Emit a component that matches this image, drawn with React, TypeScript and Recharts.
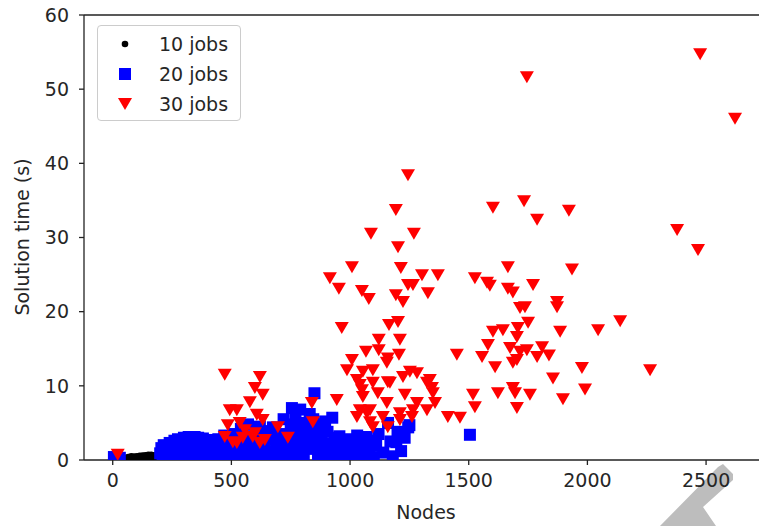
import React from 'react';
import {
  ScatterChart,
  Scatter,
  XAxis,
  YAxis,
  ReferenceLine,
  Legend,
} from 'recharts';

// [nodes, solution time (s)]
const jobs10: [number, number][] = [
  [55, 0.3], [60, 0.1], [66, 0.4], [72, 0.2], [78, 0.5], [84, 0.2], [90, 0.45],
  [96, 0.15], [102, 0.5], [108, 0.3], [114, 0.55], [120, 0.2], [126, 0.6], [132, 0.35],
  [138, 0.65], [144, 0.25], [150, 0.7], [156, 0.4], [162, 0.7], [168, 0.3], [174, 0.65],
  [180, 0.45], [186, 0.6], [192, 0.3], [198, 0.5],
];

const jobs20: [number, number][] = [
  [5, 0.4], [30, 0.3],
  [200, 0.9], [205, 1.6], [210, 0.3], [215, 2.0], [225, 1.4], [230, 0.8], [240, 2.3],
  [245, 0.4], [250, 1.0], [255, 1.8], [260, 2.6], [268, 0.5], [275, 2.8], [282, 2.0],
  [290, 1.5], [295, 0.3], [300, 3.0], [305, 2.2], [310, 0.6], [315, 1.5], [320, 3.1],
  [328, 0.4], [335, 2.0], [340, 1.0], [345, 3.1], [352, 2.2], [360, 3.0], [365, 0.4],
  [370, 1.2], [375, 2.1], [380, 2.9], [388, 1.0], [395, 2.4], [400, 0.3], [405, 1.8],
  [410, 2.7], [415, 2.2], [420, 0.9], [428, 1.5], [435, 2.5], [440, 0.3], [445, 2.8],
  [450, 1.8], [455, 1.2], [460, 0.5], [465, 2.4], [470, 3.3], [475, 0.3], [480, 1.2],
  [485, 2.8], [490, 2.0], [495, 1.3], [500, 0.4], [505, 2.4], [510, 3.5], [520, 0.3],
  [525, 2.5], [530, 1.0], [540, 4.2], [545, 1.5], [555, 2.2], [560, 0.4], [565, 3.0],
  [570, 4.8], [580, 0.6], [585, 2.0], [590, 3.2], [595, 0.3], [605, 1.6], [610, 3.4],
  [620, 4.5], [625, 0.5], [635, 2.6], [640, 1.5], [650, 3.9], [655, 0.3], [660, 2.8],
  [665, 1.1], [675, 4.4], [680, 1.2], [690, 2.3], [695, 0.3], [700, 3.3], [705, 1.8],
  [715, 0.8], [720, 5.5], [725, 3.5], [735, 2.4], [740, 0.4], [745, 1.5], [750, 4.0],
  [755, 7.0], [760, 3.0], [765, 4.8], [770, 6.0], [775, 0.4], [780, 1.5], [785, 4.2],
  [790, 6.8], [795, 2.0], [800, 3.5], [805, 0.5], [810, 5.0], [815, 3.5], [820, 2.0],
  [825, 4.5], [830, 6.2], [840, 1.5], [845, 5.5], [850, 9.0], [855, 2.5], [860, 4.0],
  [865, 0.3], [870, 1.0], [875, 4.8], [880, 3.0], [890, 1.6], [895, 5.2], [900, 0.4],
  [905, 3.8], [910, 2.2], [920, 1.0], [925, 5.7], [935, 3.0], [940, 1.5], [945, 0.3],
  [955, 3.2], [960, 1.5], [970, 2.3], [980, 0.4], [990, 2.8], [1000, 1.2], [1010, 2.4],
  [1020, 0.3], [1030, 3.3], [1040, 1.4], [1050, 2.0], [1060, 0.5], [1070, 3.1],
  [1080, 1.4], [1090, 2.6], [1100, 0.4], [1110, 2.0], [1120, 3.5], [1140, 1.0],
  [1160, 5.0], [1170, 2.5], [1180, 0.5], [1195, 2.4], [1200, 3.8], [1215, 1.2],
  [1230, 3.0], [1245, 4.4], [1250, 4.7], [1505, 3.4],
];

const jobs30: [number, number][] = [
  [2475, 54.7], [2622, 46.0], [1745, 51.6], [1244, 38.4], [1193, 33.7], [1733, 34.9],
  [1602, 34.0], [1922, 33.6], [1788, 32.4], [1088, 30.5], [1269, 30.5], [1202, 28.7],
  [1008, 26.0], [1214, 25.9], [915, 24.5], [953, 23.1], [1303, 24.9], [1370, 24.9],
  [1244, 23.6], [1265, 23.6], [1050, 22.8], [1079, 21.7], [1193, 22.2], [1223, 21.3],
  [1328, 22.5], [965, 17.8], [1164, 18.2], [1202, 18.6], [1121, 16.2], [1210, 16.2],
  [1067, 14.6], [1121, 14.8], [1159, 13.7], [1206, 14.2], [1008, 13.5], [1450, 14.2],
  [1526, 24.5], [1577, 23.9], [1556, 13.9], [1665, 26.0], [1935, 25.7], [1589, 23.5],
  [1665, 23.1], [1686, 22.6], [1771, 23.6], [1872, 21.3], [1872, 20.6], [1737, 20.6],
  [1716, 20.5], [1750, 18.5], [1602, 17.3], [1644, 17.5], [1707, 17.8], [1703, 16.6],
  [1885, 17.3], [2045, 17.5], [1581, 15.5], [1674, 15.1], [1716, 14.6], [1745, 14.8],
  [1809, 15.2], [1788, 13.9], [1838, 14.1], [1703, 13.5], [1611, 12.5], [1977, 12.4],
  [2138, 18.7], [1686, 13.1], [1855, 11.0], [1686, 9.7], [1990, 9.5], [2378, 31.0],
  [2466, 28.3], [2264, 12.1], [1897, 8.2], [1518, 8.8], [1526, 7.1], [1623, 9.0],
  [1695, 9.0], [1703, 7.0], [1758, 8.8], [1412, 5.8], [1463, 5.7], [839, 7.7],
  [843, 5.1], [944, 8.1], [987, 12.1], [1029, 10.8], [1096, 12.1], [1155, 13.1],
  [1050, 9.4], [1117, 9.0], [1168, 10.4], [1223, 11.2], [1282, 11.7], [1336, 10.8],
  [1029, 5.8], [1071, 6.3], [1138, 5.8], [1210, 6.3], [1261, 5.8], [1324, 6.7],
  [1358, 7.7], [1155, 7.7], [1096, 4.4], [1159, 4.4], [1282, 7.7], [1349, 9.0],
  [1054, 11.9], [1252, 11.9], [1324, 10.4], [1345, 9.7], [1041, 10.1], [1096, 10.4],
  [1159, 10.5], [1054, 8.5], [1231, 8.8], [1041, 6.7], [1084, 6.7], [1265, 6.7],
  [1084, 5.1], [1210, 5.4], [472, 11.5], [620, 11.2], [599, 9.7], [632, 8.8],
  [578, 7.8], [493, 6.7], [523, 6.7], [485, 4.7], [535, 5.0], [472, 3.1], [506, 2.4],
  [548, 3.0], [607, 6.1], [632, 5.4], [599, 3.6], [641, 2.7], [21, 0.7], [696, 4.4],
  [738, 3.0], [590, 3.1], [620, 2.3], [523, 2.3], [557, 4.0],
];

const xTicks = [0, 500, 1000, 1500, 2000, 2500];
const yTicks = [0, 10, 20, 30, 40, 50, 60];

const FONT = 'DejaVu Sans';
const TEXT = '#262626';

const toPoints = (rows: [number, number][]) => rows.map(([x, y]) => ({ x, y }));

const DotMark = (p: any) => <circle cx={p.cx} cy={p.cy} r={3.3} fill="#000000" />;
const SquareMark = (p: any) => (
  <rect x={p.cx - 6} y={p.cy - 6} width={12} height={12} fill="#0000ff" />
);
const TriMark = (p: any) => (
  <polygon
    points={`${p.cx - 7},${p.cy - 6} ${p.cx + 7},${p.cy - 6} ${p.cx},${p.cy + 6}`}
    fill="#ff0000"
  />
);

const series = [
  { name: '10 jobs', rows: jobs10, shape: DotMark },
  { name: '20 jobs', rows: jobs20, shape: SquareMark },
  { name: '30 jobs', rows: jobs30, shape: TriMark },
];

const LegendBox = () => (
  <div
    style={{
      width: 144,
      height: 96,
      border: '1px solid #cccccc',
      borderRadius: 4,
      background: 'rgba(255,255,255,0.8)',
      boxSizing: 'border-box',
      paddingTop: 3,
    }}
  >
    {series.map((s) => (
      <div key={s.name} style={{ display: 'flex', alignItems: 'center', height: 30 }}>
        <svg width={61} height={30}>
          {s.shape({ cx: 27, cy: 15 })}
        </svg>
        <span style={{ fontFamily: FONT, fontSize: 19, color: TEXT }}>{s.name}</span>
      </div>
    ))}
  </div>
);

const App: React.FC = () => {
  return (
    <div style={{ position: 'absolute', left: 0, top: 0, width: 759, height: 526 }}>
      {/* grey watermark behind the chart */}
      <svg width={759} height={526} style={{ position: 'absolute', left: 0, top: 0 }}>
        <polygon
          points="660,526 718,467 723,464 733,474 733,480 703,507 716,526"
          fill="#bdbdbd"
        />
      </svg>
      <div style={{ position: 'absolute', left: 0, top: 0 }}>
        <ScatterChart
          width={759}
          height={526}
          margin={{ top: 15, right: 0, bottom: 0, left: 0 }}
        >
          <XAxis
            type="number"
            dataKey="x"
            domain={[-121, 2723]}
            ticks={xTicks}
            allowDataOverflow
            height={66}
            stroke="#222"
            strokeWidth={1.3}
            tickSize={5}
            tickMargin={9}
            tick={{ fill: TEXT, fontSize: 19, fontFamily: FONT }}
            label={{
              content: () => (
                <text x={426} y={519} textAnchor="middle" fill={TEXT} fontSize={19} fontFamily={FONT}>
                  Nodes
                </text>
              ),
            }}
          />
          <YAxis
            type="number"
            dataKey="y"
            domain={[0, 60]}
            ticks={yTicks}
            allowDataOverflow
            width={84}
            stroke="#222"
            strokeWidth={1.3}
            tickSize={5}
            tickMargin={10}
            tick={{ fill: TEXT, fontSize: 19, fontFamily: FONT }}
            label={{
              content: () => (
                <text
                  x={22}
                  y={237}
                  transform="rotate(-90, 22, 237)"
                  textAnchor="middle"
                  dominantBaseline="central"
                  fill={TEXT}
                  fontSize={19}
                  fontFamily={FONT}
                >
                  Solution time (s)
                </text>
              ),
            }}
          />
          <ReferenceLine y={60} stroke="#222" strokeWidth={1.3} />
          {series.map((s) => (
            <Scatter
              key={s.name}
              name={s.name}
              data={toPoints(s.rows)}
              shape={s.shape}
              isAnimationActive={false}
            />
          ))}
          <Legend
            layout="horizontal"
            verticalAlign="middle"
            align="center"
            content={() => <LegendBox />}
            wrapperStyle={{ left: 97, top: 25, width: 144 }}
          />
        </ScatterChart>
      </div>
    </div>
  );
};

export default App;
